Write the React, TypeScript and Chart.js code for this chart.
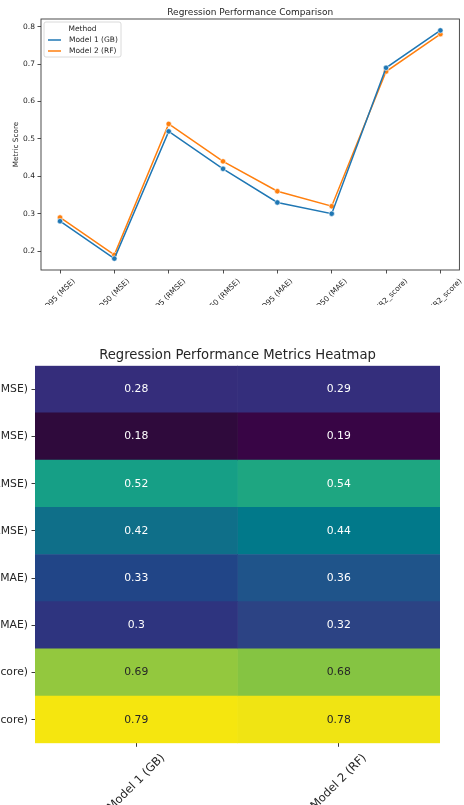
import React, { useEffect, useRef } from "react";
import { Chart, registerables } from "chart.js";

Chart.register(...registerables);

// ---------- data ----------
const METRICS = [
  "Q95 (MSE)",
  "Q50 (MSE)",
  "Q95 (RMSE)",
  "Q50 (RMSE)",
  "Q95 (MAE)",
  "Q50 (MAE)",
  "Q95 (R2_score)",
  "Q50 (R2_score)",
];
const MODELS = ["Model 1 (GB)", "Model 2 (RF)"];
const MODEL1_VALUES = [0.28, 0.18, 0.52, 0.42, 0.33, 0.3, 0.69, 0.79];
const MODEL2_VALUES = [0.29, 0.19, 0.54, 0.44, 0.36, 0.32, 0.68, 0.78];
const Y_TICKS = [0.2, 0.3, 0.4, 0.5, 0.6, 0.7, 0.8];

// ---------- styles ----------
const FONT = "DejaVu Sans";
const LINE_COLORS = ["#1f77b4", "#ff7f0e"];
const TEXT = "#262626";
// colormap stops (normalised position -> colour), viridis-like as in the picture
const CMAP: [number, string][] = [
  [0.0, "#2f0a3c"],
  [0.016, "#380545"],
  [0.164, "#352d7b"],
  [0.18, "#342e7c"],
  [0.197, "#2e347f"],
  [0.23, "#2c4384"],
  [0.246, "#214587"],
  [0.295, "#1f548a"],
  [0.393, "#0f6f89"],
  [0.426, "#01798a"],
  [0.557, "#169f86"],
  [0.59, "#1ea681"],
  [0.82, "#85c442"],
  [0.836, "#93c83e"],
  [0.984, "#f0e413"],
  [1.0, "#f5e60f"],
];

function hexToRgb(h: string): number[] {
  const n = parseInt(h.slice(1), 16);
  return [(n >> 16) & 255, (n >> 8) & 255, n & 255];
}
function cmapColor(t: number): string {
  t = Math.max(0, Math.min(1, t));
  for (let i = 0; i < CMAP.length - 1; i++) {
    const [t0, c0] = CMAP[i];
    const [t1, c1] = CMAP[i + 1];
    if (t >= t0 && t <= t1) {
      const f = t1 === t0 ? 0 : (t - t0) / (t1 - t0);
      const a = hexToRgb(c0);
      const b = hexToRgb(c1);
      const r = a.map((v, k) => Math.round(v + (b[k] - v) * f));
      return `rgb(${r[0]},${r[1]},${r[2]})`;
    }
  }
  return CMAP[CMAP.length - 1][1];
}
function luminance(c: string): number {
  const m = c.match(/\d+/g)!.map(Number);
  const lin = m.map((v) => {
    const s = v / 255;
    return s <= 0.03928 ? s / 12.92 : Math.pow((s + 0.055) / 1.055, 2.4);
  });
  return 0.2126 * lin[0] + 0.7152 * lin[1] + 0.0722 * lin[2];
}

function drawRotatedLabel(ctx: CanvasRenderingContext2D, text: string, px: number, top: number, size: number) {
  ctx.save();
  ctx.font = `${size}px "${FONT}"`;
  const w = ctx.measureText(text).width;
  const h = size * 1.16;
  const half = (w + h) / (2 * Math.SQRT2);
  ctx.translate(px, top + half);
  ctx.rotate(-Math.PI / 4);
  ctx.fillStyle = TEXT;
  ctx.textAlign = "center";
  ctx.textBaseline = "middle";
  ctx.fillText(text, 0, 0);
  ctx.restore();
}

export default function App() {
  const topRef = useRef<HTMLCanvasElement>(null);
  const heatRef = useRef<HTMLCanvasElement>(null);

  useEffect(() => {
    Chart.defaults.font.family = FONT;
    const series = [MODEL1_VALUES, MODEL2_VALUES];

    const topDecor = {
      id: "topDecor",
      afterDraw(chart: any) {
        const ctx: CanvasRenderingContext2D = chart.ctx;
        const a = chart.chartArea;
        ctx.save();
        // frame
        ctx.strokeStyle = "#3a3a3a";
        ctx.lineWidth = 0.9;
        ctx.strokeRect(a.left, a.top, a.right - a.left, a.bottom - a.top);
        // title
        ctx.fillStyle = TEXT;
        ctx.font = `9px "${FONT}"`;
        ctx.textAlign = "center";
        ctx.textBaseline = "alphabetic";
        ctx.fillText("Regression Performance Comparison", (a.left + a.right) / 2, 15);
        // y label
        ctx.save();
        ctx.translate(16, (a.top + a.bottom) / 2);
        ctx.rotate(-Math.PI / 2);
        ctx.font = `7.3px "${FONT}"`;
        ctx.textBaseline = "middle";
        ctx.fillText("Metric Score", 0, 0);
        ctx.restore();
        // legend
        const lx = 44, ly = 22, lw = 77, lh = 35;
        ctx.beginPath();
        (ctx as any).roundRect(lx, ly, lw, lh, 2);
        ctx.fillStyle = "rgba(255,255,255,0.8)";
        ctx.fill();
        ctx.strokeStyle = "#d0d0d0";
        ctx.lineWidth = 0.8;
        ctx.stroke();
        ctx.fillStyle = TEXT;
        ctx.font = `7.5px "${FONT}"`;
        ctx.textAlign = "center";
        ctx.textBaseline = "middle";
        ctx.fillText("Method", lx + lw / 2, 29);
        chart.data.datasets.forEach((ds: any, i: number) => {
          const y = 40 + i * 11;
          ctx.strokeStyle = ds.borderColor;
          ctx.lineWidth = 1.5;
          ctx.beginPath();
          ctx.moveTo(48, y);
          ctx.lineTo(61, y);
          ctx.stroke();
          ctx.fillStyle = TEXT;
          ctx.textAlign = "left";
          ctx.fillText(ds.label, 69, y);
        });
        ctx.restore();
        // x tick labels (rotated, centred on tick)
        const xs = chart.scales.x;
        METRICS.forEach((m, i) => {
          drawRotatedLabel(ctx, m, xs.getPixelForValue(i), a.bottom + 7, 7.5);
        });
      },
    };

    const top = new Chart(topRef.current!, {
      type: "line",
      data: {
        datasets: series.map((vals, si) => ({
          label: MODELS[si],
          data: vals.map((v, i) => ({ x: i, y: v })),
          borderColor: LINE_COLORS[si],
          backgroundColor: LINE_COLORS[si],
          pointBackgroundColor: LINE_COLORS[si],
          pointBorderColor: "#ffffff",
          pointBorderWidth: 0.6,
          pointRadius: 2.7,
          borderWidth: 1.5,
          tension: 0,
        })),
      },
      options: {
        responsive: false,
        animation: false,
        events: [],
        layout: { padding: { left: 0, top: 19, right: 2, bottom: 35 } },
        plugins: {
          legend: { display: false },
          tooltip: { enabled: false },
          title: { display: false },
        },
        scales: {
          x: {
            type: "linear",
            min: -0.35,
            max: 7.35,
            afterBuildTicks: (s: any) => {
              s.ticks = METRICS.map((_, i) => ({ value: i }));
            },
            afterFit: (s: any) => {
              s.height = 0;
            },
            ticks: { display: false },
            grid: { display: true, drawOnChartArea: false, drawTicks: true, tickLength: 3.5, color: "#3a3a3a", lineWidth: 0.9 },
            border: { display: false },
          },
          y: {
            type: "linear",
            min: 0.1495,
            max: 0.8205,
            afterBuildTicks: (s: any) => {
              s.ticks = Y_TICKS.map((v) => ({ value: v }));
            },
            afterFit: (s: any) => {
              s.width = 41;
            },
            ticks: {
              font: { family: FONT, size: 7.5 },
              color: TEXT,
              padding: 2.5,
              callback: (v: any) => Number(v).toFixed(1),
            },
            grid: { display: true, drawOnChartArea: false, drawTicks: true, tickLength: 3.5, color: "#3a3a3a", lineWidth: 0.9 },
            border: { display: false },
          },
        },
      } as any,
      plugins: [topDecor],
    });

    const all = series.flat();
    const vmin = Math.min(...all);
    const vmax = Math.max(...all);
    const colorOf = (v: number) => cmapColor((v - vmin) / (vmax - vmin));

    const heatDecor = {
      id: "heatDecor",
      afterDraw(chart: any) {
        const ctx: CanvasRenderingContext2D = chart.ctx;
        const a = chart.chartArea;
        ctx.save();
        ctx.fillStyle = TEXT;
        ctx.font = `13.2px "${FONT}"`;
        ctx.textAlign = "center";
        ctx.textBaseline = "alphabetic";
        ctx.fillText("Regression Performance Metrics Heatmap", (a.left + a.right) / 2, 28.5);
        // annotations
        ctx.font = `10.8px "${FONT}"`;
        ctx.textBaseline = "middle";
        chart.data.datasets.forEach((_: any, di: number) => {
          const meta = chart.getDatasetMeta(di);
          meta.data.forEach((el: any, i: number) => {
            const v = series[di][i];
            const c = colorOf(v);
            ctx.fillStyle = luminance(c) > 0.408 ? TEXT : "#ffffff";
            ctx.fillText(String(v), (el.x + el.base) / 2, el.y);
          });
        });
        ctx.restore();
        const xs = chart.scales.x;
        MODELS.forEach((m, i) => {
          drawRotatedLabel(ctx, m, xs.getPixelForValue(i + 0.5), a.bottom + 8, 11.6);
        });
      },
    };

    const heat = new Chart(heatRef.current!, {
      type: "bar",
      data: {
        labels: METRICS,
        datasets: series.map((vals, si) => ({
          label: MODELS[si],
          data: vals.map(() => 1),
          backgroundColor: vals.map((v) => colorOf(v)),
          borderWidth: 0,
          barPercentage: 1,
          categoryPercentage: 1,
        })),
      },
      options: {
        indexAxis: "y",
        responsive: false,
        animation: false,
        events: [],
        layout: { padding: { left: 0, top: 35.7, right: 24, bottom: 61.7 } },
        plugins: {
          legend: { display: false },
          tooltip: { enabled: false },
          title: { display: false },
        },
        scales: {
          x: {
            type: "linear",
            stacked: true,
            min: 0,
            max: 2,
            afterBuildTicks: (s: any) => {
              s.ticks = MODELS.map((_, i) => ({ value: i + 0.5 }));
            },
            afterFit: (s: any) => {
              s.height = 0;
            },
            ticks: { display: false },
            grid: { display: true, drawOnChartArea: false, drawTicks: true, tickLength: 3.5, color: TEXT, lineWidth: 0.9 },
            border: { display: false },
          },
          y: {
            type: "category",
            stacked: true,
            afterFit: (s: any) => {
              s.width = 35;
            },
            ticks: { font: { family: FONT, size: 10.8 }, color: TEXT, padding: 3.5 },
            grid: { display: true, offset: false, drawOnChartArea: false, drawTicks: true, tickLength: 3.5, color: TEXT, lineWidth: 0.9 },
            border: { display: false },
          },
        },
      } as any,
      plugins: [heatDecor],
    });

    return () => {
      top.destroy();
      heat.destroy();
    };
  }, []);

  return (
    <div style={{ position: "absolute", left: 0, top: 0, width: 464, height: 805, overflow: "hidden", background: "#ffffff" }}>
      <canvas ref={topRef} width={464} height={305} style={{ position: "absolute", left: 0, top: 0, width: 464, height: 305 }} />
      <canvas ref={heatRef} width={464} height={475} style={{ position: "absolute", left: 0, top: 330, width: 464, height: 475 }} />
    </div>
  );
}
